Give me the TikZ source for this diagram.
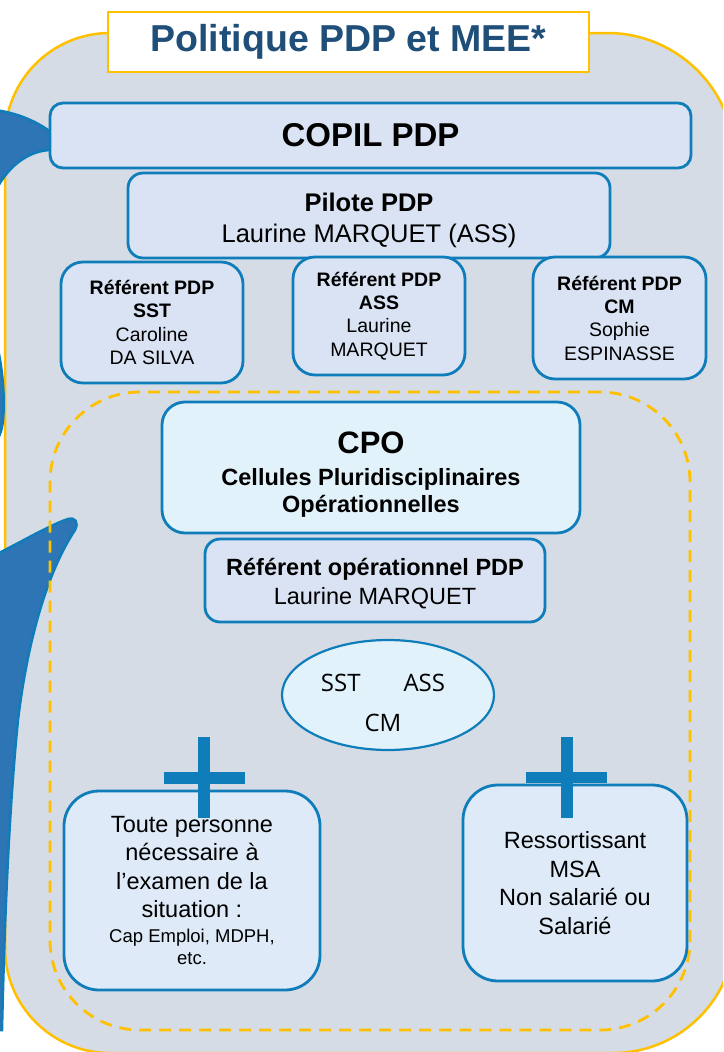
\documentclass[tikz,border=0pt]{standalone}
\usepackage{fontspec}
\setmainfont{Liberation Sans}
\newfontfamily\ellfont{Open Sans}
\usetikzlibrary{shapes.geometric}
\definecolor{bggray}{RGB}{214,220,229}
\definecolor{goldy}{RGB}{255,192,0}
\definecolor{boxfill}{RGB}{218,227,243}
\definecolor{cyanfill}{RGB}{226,242,251}
\definecolor{lowfill}{RGB}{222,234,247}
\definecolor{bdr}{RGB}{14,125,186}
\definecolor{arrowfill}{RGB}{46,117,182}
\definecolor{titleblue}{RGB}{31,78,121}
\begin{document}
\begin{tikzpicture}[x=1pt,y=-1pt,
  box/.style={draw=bdr, line width=2.8pt, fill=boxfill, align=center, inner sep=0pt, rounded corners=#1},
  box/.default=14pt,
  refbox/.style={box=22pt, font=\fontsize{19.5}{23.3}\selectfont},
  bluearrow/.style={fill=arrowfill, draw=bdr, line width=2.5pt},
  plusbar/.style={fill=bdr}]
\useasboundingbox (0,0) rectangle (723,1052);
\clip (0,0) rectangle (723,1052);
% outer container
\path[fill=bggray, draw=goldy, line width=2.5pt]
  (5,500) [rounded corners=105pt] -- (5,33) [rounded corners=128pt] -- (735,33)
  [rounded corners=122pt] -- (735,1053) [rounded corners=105pt] -- (5,1053) -- cycle;
% blue curved arrows (mostly off the left edge)
\path[bluearrow] (-5,110) .. controls (18,113) and (38,122) .. (52,133) -- (52,150)
  .. controls (30,150) and (8,165) .. (-5,192) -- (-20,192) -- (-20,330) -- (-3,345)
  .. controls (3,370) and (5,400) .. (3,420) .. controls (2,430) and (0,435) .. (-3,440)
  -- (-20,460) -- (-40,110) -- cycle;
\path[bluearrow] (-5,555) .. controls (25,540) and (50,525) .. (68,519)
  .. controls (75,517) and (79,522) .. (75,530)
  .. controls (55,560) and (30,620) .. (18,720)
  .. controls (10,800) and (5,900) .. (2,1030) -- (-20,1030) -- (-20,555) -- cycle;
% title
\node[draw=goldy, line width=2pt, fill=white, minimum width=481pt, minimum height=60pt,
  inner sep=0pt, text=titleblue, font=\bfseries\fontsize{37.5}{44}\selectfont]
  (title) at (348.5,42) {Politique PDP et MEE*};
% top boxes
\node[box=13pt, minimum width=641pt, minimum height=65pt,
  font=\bfseries\fontsize{33}{38}\selectfont] (copil) at (370.5,135.5) {COPIL PDP};
\node[box=15pt, minimum width=482pt, minimum height=85pt,
  font=\fontsize{25.5}{31}\selectfont] (pilote) at (369,215.5)
  {\rule{0pt}{28pt}\textbf{Pilote PDP}\\Laurine MARQUET (ASS)};
\node[refbox, minimum width=182pt, minimum height=121pt] (refsst) at (152,322.5)
  {\textbf{Référent PDP}\\\textbf{SST}\\Caroline\\DA SILVA};
\node[refbox, minimum width=172pt, minimum height=118pt] (refass) at (379,316)
  {\textbf{Référent PDP}\\\textbf{ASS}\\Laurine\\MARQUET};
\node[refbox, minimum width=173pt, minimum height=122pt] (refcm) at (619.5,318)
  {\textbf{Référent PDP}\\\textbf{CM}\\Sophie\\ESPINASSE};
% dashed zone
\node[draw=goldy, line width=2.8pt, dash pattern=on 12pt off 8pt, rounded corners=90pt,
  minimum width=640pt, minimum height=638pt, inner sep=0pt] (zone) at (370,711) {};
% CPO
\node[box=23pt, fill=cyanfill, minimum width=418pt, minimum height=131pt,
  font=\bfseries\fontsize{23.5}{27}\selectfont] (cpo) at (371,467.5)
  {\rule{0pt}{36pt}{\fontsize{31}{36}\selectfont CPO}\\[5pt]Cellules Pluridisciplinaires\\Opérationnelles};
\node[box=15pt, minimum width=340pt, minimum height=83pt,
  font=\fontsize{23.5}{29}\selectfont] (refop) at (375,580.5)
  {\rule{0pt}{24pt}\textbf{Référent opérationnel PDP}\\Laurine MARQUET};
% ellipse
\node[ellipse, draw=bdr, line width=2.2pt, fill=cyanfill, minimum width=212pt,
  minimum height=110pt, inner sep=0pt] (ell) at (388,695) {};
\node[font=\ellfont\fontsize{24}{40}\selectfont, align=center, inner sep=0pt]
  (elltxt) at (383,703) {SST\hspace{43pt}ASS\\CM};
% bottom boxes
\node[box=35pt, fill=lowfill, minimum width=256pt, minimum height=199pt,
  font=\fontsize{23.5}{28.5}\selectfont] (toute) at (192,890.5)
  {Toute personne\\nécessaire à\\l’examen de la\\situation :\\[-3.5pt]
   {\fontsize{18.5}{22}\selectfont Cap Emploi, MDPH,}\\[-6.5pt]{\fontsize{18.5}{22}\selectfont etc.}};
\node[box=35pt, fill=lowfill, minimum width=224pt, minimum height=196pt,
  font=\fontsize{23.5}{28.5}\selectfont] (ressort) at (575,883)
  {Ressortissant\\MSA\\Non salarié ou\\Salarié};
% plus signs
\path[plusbar] (198,737) rectangle (210,818);
\path[plusbar] (164,772) rectangle (245,784);
\path[plusbar] (561,737) rectangle (573,818);
\path[plusbar] (526,772) rectangle (607,783);
\end{tikzpicture}
\end{document}
